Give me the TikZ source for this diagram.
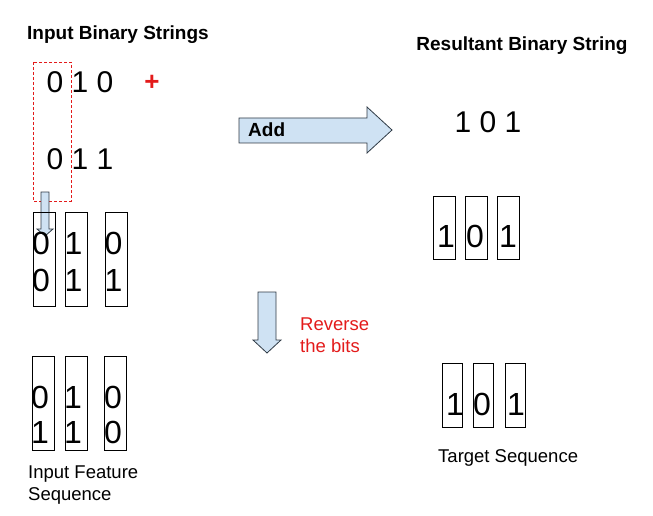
\documentclass[tikz,border=0pt]{standalone}
\usepackage{fontspec}
\setmainfont{Liberation Sans}
\definecolor{arrowblue}{HTML}{CFE2F3}
\definecolor{arrowedge}{HTML}{2F3A45}
\definecolor{redtext}{HTML}{E31B1B}
\begin{document}
\begin{tikzpicture}[x=1pt,y=-1pt,
  bitbox/.style={draw=black, line width=0.8pt, inner sep=0, minimum width=22pt},
  digit/.style={inner sep=0, font=\fontsize{32}{32}\selectfont},
  bigdigits/.style={inner sep=0, font=\fontsize{30}{30}\selectfont},
  lbl/.style={inner sep=0, font=\fontsize{18.5}{22}\selectfont, align=left},
  ttl/.style={inner sep=0, font=\bfseries\fontsize{19}{22}\selectfont},
  blockarrow/.style={fill=arrowblue, draw=arrowedge, line width=0.8pt, line join=miter}]
\useasboundingbox (0,0) rectangle (653,516);

% titles
\node[ttl, anchor=base] (t1) at (118,40) {Input Binary Strings};
\node[ttl, anchor=base] (t2) at (522,51) {Resultant Binary String};

% input strings
\node[bigdigits] (s1) at (80,82) {0 1 0};
\node[bigdigits] (s2) at (80,159) {0 1 1};
\node[inner sep=0, text=redtext, font=\bfseries\fontsize{26}{26}\selectfont] (plus) at (152,83) {+};
\draw[redtext, dashed, line width=0.7pt, dash pattern=on 3pt off 2pt] (33,62) rectangle (71,201);

% small down arrow
\draw[blockarrow] (41,192) -- (49,192) -- (49,229) -- (53,229) -- (45,236) -- (37,229) -- (41,229) -- cycle;

% input column boxes (top)
\node[bitbox, minimum height=94pt] (a1) at (44,259) {};
\node[bitbox, minimum height=94pt] (a2) at (76.5,259) {};
\node[bitbox, minimum height=94pt] (a3) at (116.5,259) {};
\node[digit] (a11) at (41,243) {0};
\node[digit] (a12) at (41,280) {0};
\node[digit] (a21) at (73.5,243) {1};
\node[digit] (a22) at (73.5,280) {1};
\node[digit] (a31) at (113.5,243) {0};
\node[digit] (a32) at (113.5,280) {1};

% Add arrow
\draw[blockarrow] (239,118) -- (367,118) -- (367,107) -- (392,130) -- (367,153) -- (367,143) -- (239,143) -- cycle;
\node[inner sep=0, anchor=base west, font=\bfseries\fontsize{19}{19}\selectfont] (add) at (248,137) {Add};

% result
\node[bigdigits] (r) at (488,122) {1 0 1};

% result boxes (top right)
\node[bitbox, minimum height=63pt] (c1) at (444,227.5) {};
\node[bitbox, minimum height=63pt] (c2) at (476,227.5) {};
\node[bitbox, minimum height=63pt] (c3) at (508,227.5) {};
\node[digit] (c1d) at (446,236) {1};
\node[digit] (c2d) at (475,236) {0};
\node[digit] (c3d) at (508,236) {1};

% reverse arrow
\draw[blockarrow] (258,292) -- (276,292) -- (276,340) -- (281,340) -- (267,353) -- (253,340) -- (258,340) -- cycle;
\node[lbl, text=redtext, anchor=base west] (rev) at (300,352) {Reverse\\the bits};

% input feature sequence (bottom left)
\node[bitbox, minimum height=94pt] (f1) at (43.5,403) {};
\node[bitbox, minimum height=94pt] (f2) at (76.5,403) {};
\node[bitbox, minimum height=94pt] (f3) at (115.5,403) {};
\node[digit] (f11) at (40,397) {0};
\node[digit] (f12) at (40,432) {1};
\node[digit] (f21) at (73,397) {1};
\node[digit] (f22) at (73,432) {1};
\node[digit] (f31) at (113,397) {0};
\node[digit] (f32) at (113,432) {0};
\node[lbl, anchor=base west] (ifs) at (28,500) {Input Feature\\Sequence};

% target sequence (bottom right)
\node[bitbox, minimum width=20pt, minimum height=64pt] (g1) at (452,395) {};
\node[bitbox, minimum width=20pt, minimum height=64pt] (g2) at (483,395) {};
\node[bitbox, minimum width=20pt, minimum height=64pt] (g3) at (515,395) {};
\node[digit] (g1d) at (455,404) {1};
\node[digit] (g2d) at (482,404) {0};
\node[digit] (g3d) at (516,404) {1};
\node[lbl, anchor=base west] (ts) at (438,462) {Target Sequence};
\end{tikzpicture}
\end{document}
